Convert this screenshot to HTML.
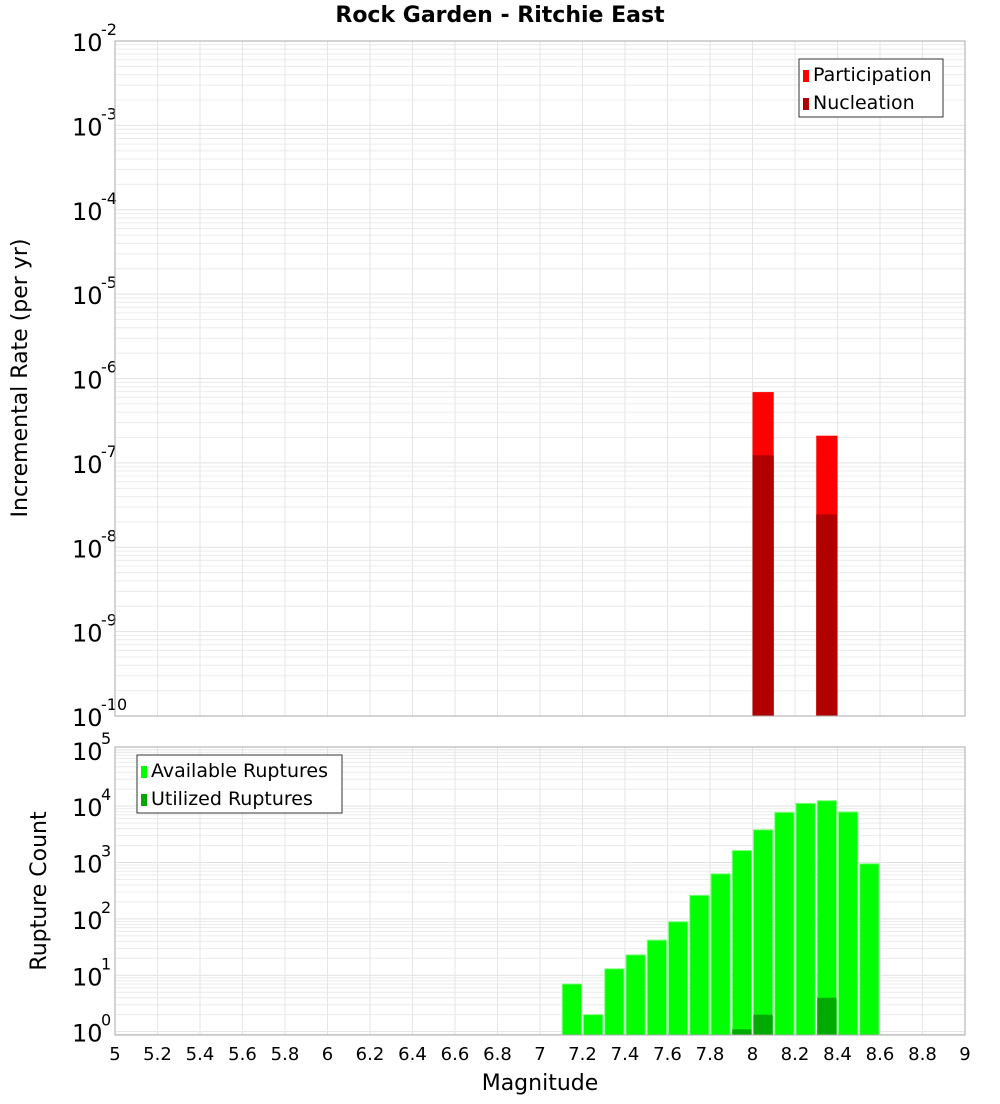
<!DOCTYPE html>
<html><head><meta charset="utf-8"><style>
body{margin:0;background:#fff;font-family:"DejaVu Sans","Liberation Sans",sans-serif;}
svg text{font-family:"DejaVu Sans","Liberation Sans",sans-serif;}
</style></head><body>
<svg id="chart" width="1000" height="1100" xmlns="http://www.w3.org/2000/svg">
<text x="500" y="22" text-anchor="middle" font-size="22" font-weight="bold">Rock Garden - Ritchie East</text>
<g id="top"></g>
<g id="bot"></g>
<text x="540" y="1090" text-anchor="middle" font-size="22">Magnitude</text>
<text transform="translate(27,378) rotate(-90)" text-anchor="middle" font-size="22">Incremental Rate (per yr)</text>
<text transform="translate(46,891) rotate(-90)" text-anchor="middle" font-size="22">Rupture Count</text>
</svg>
<script>
const rateMags = [8.05, 8.35];
const participation = [6.9e-7, 2.1e-7];
const nucleation = [1.23e-7, 2.45e-8];
const countMags = [7.15,7.25,7.35,7.45,7.55,7.65,7.75,7.85,7.95,8.05,8.15,8.25,8.35,8.45,8.55];
const available = [7,2,13,23,42,89,262,630,1630,3810,7760,11200,12500,7900,950];
const utilizedMags = [7.95, 8.05, 8.35];
const utilized = [1.1, 2, 4];
const xTicks = [5,5.2,5.4,5.6,5.8,6,6.2,6.4,6.6,6.8,7,7.2,7.4,7.6,7.8,8,8.2,8.4,8.6,8.8,9];

const NS='http://www.w3.org/2000/svg';
const X0=115,X1=965;
const xs=m=>X0+(m-5)/4*(X1-X0);
function mk(p,tag,a){const e=document.createElementNS(NS,tag);for(const k in a)e.setAttribute(k,a[k]);p.appendChild(e);return e;}

function panel(g,top,bottom,lmin,lmax,decades){
  const ys=v=>bottom-(Math.log10(v)-lmin)/(lmax-lmin)*(bottom-top);
  // grid
  for(let d=Math.floor(lmin);d<=Math.ceil(lmax);d++){
    for(let k=1;k<10;k++){
      const v=k*Math.pow(10,d);const y=ys(v);
      if(y<top-0.5||y>bottom+0.5)continue;
      const l=mk(g,'line',{x1:X0,x2:X1,y1:y,y2:y,stroke:k==1?'#e2e2e2':'#ececec','stroke-width':1});
      
      
    }
  }
  xTicks.forEach(t=>{
    const l=mk(g,'line',{x1:xs(t),x2:xs(t),y1:top,y2:bottom,stroke:'#e6e6e6','stroke-width':1});
    
    
  });
  decades.forEach(d=>{
    const y=ys(Math.pow(10,d));
    const t=mk(g,'text',{x:72,y:y+10,'font-size':24});
    
    
    t.textContent='10';
    const s=mk(g,'text',{x:101,y:y-6,'font-size':16});
    
    
    s.textContent=String(d);
  });
  return ys;
}
function frame(g,top,bottom){
  const r=mk(g,'rect',{x:X0,y:top,width:X1-X0,height:bottom-top,fill:'none',stroke:'#aaa','stroke-width':1});
  
  
}
function bar(g,m,v,ys,bottom,fill,name,w){
  const x=xs(m-0.05),x2=xs(m+0.05);const y=ys(v);
  const r=mk(g,'rect',{x:x+(w?1:0),y:y,width:x2-x-(w?2:0),height:bottom-y,fill:fill});
  if(w){r.setAttribute('stroke','#7dff7d');r.setAttribute('stroke-width','1');}
  
  
}
function legend(g,x,y,w,items){
  const r=mk(g,'rect',{x:x,y:y,width:w,height:58,fill:'#fff',stroke:'#333','stroke-width':1});
  
  
  items.forEach((it,i)=>{
    const s=mk(g,'rect',{x:x+4,y:y+11+i*28,width:6,height:12,fill:it[1]});
    
    
    const t=mk(g,'text',{x:x+14,y:y+22+i*28,'font-size':19});
    
    
    t.textContent=it[0];
  });
}
// top panel
const gt=document.getElementById('top');
const yt=panel(gt,41,716,-10,-2,[-2,-3,-4,-5,-6,-7,-8,-9,-10]);
rateMags.forEach((m,i)=>bar(gt,m,participation[i],yt,716,'#ff0000','participation-bar',false));
rateMags.forEach((m,i)=>bar(gt,m,nucleation[i],yt,716,'#b00000','nucleation-bar',false));
frame(gt,41,716);
legend(gt,799,59,144,[['Participation','#ff0000'],['Nucleation','#b00000']]);
// bottom panel
const gb=document.getElementById('bot');
const yb=panel(gb,747,1035,-0.06,5.05,[5,4,3,2,1,0]);
countMags.forEach((m,i)=>bar(gb,m,available[i],yb,1035,'#00ff00','available-bar',true));
utilizedMags.forEach((m,i)=>{
  const x=xs(m-0.05),x2=xs(m+0.05),y=yb(utilized[i]);
  const r=mk(gb,'rect',{x:x+1,y:y,width:x2-x-2,height:1035-y,fill:'#00aa00'});
  
  
});
frame(gb,747,1035);
legend(gb,137,755,205,[['Available Ruptures','#00ff00'],['Utilized Ruptures','#00aa00']]);
xTicks.forEach(t=>{
  const e=mk(gb,'text',{x:xs(t),y:1060,'font-size':18,'text-anchor':'middle'});
  
  
  e.textContent=String(t);
});
</script>
</body></html>
